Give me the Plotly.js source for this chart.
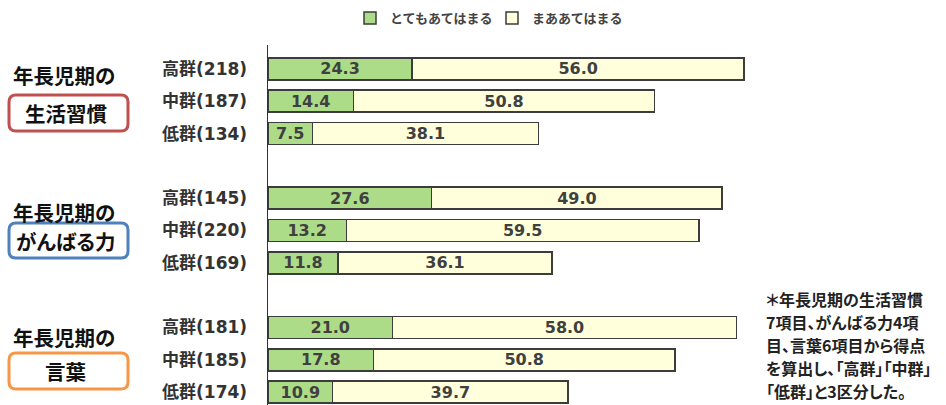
<!DOCTYPE html>
<html><head><meta charset="utf-8">
<script src="https://cdn.plot.ly/plotly-3.0.1.min.js"></script>
<style>html,body{margin:0;padding:0;background:#fff;}#chart{width:946px;height:405px;}
.annotation-text{font-feature-settings:"palt";}</style>
</head><body><div id="chart"></div>
<script>
// ---- data ----
const groupTitles = ["生活習慣", "がんばる力", "言葉"];
const groupPrefix = "年長児期の";
const rowLabels = [
  ["高群(218)", "中群(187)", "低群(134)"],
  ["高群(145)", "中群(220)", "低群(169)"],
  ["高群(181)", "中群(185)", "低群(174)"]
];
const veryTrue = [24.3, 14.4, 7.5, 27.6, 13.2, 11.8, 21.0, 17.8, 10.9];
const fairlyTrue = [56.0, 50.8, 38.1, 49.0, 59.5, 36.1, 58.0, 50.8, 39.7];
const seriesNames = ["とてもあてはまる", "まああてはまる"];
const noteLines = ["＊年長児期の生活習慣", "7項目、がんばる力4項", "目、言葉6項目から得点", "を算出し、「高群」「中群」", "「低群」と3区分した。"];

// ---- layout helpers ----
const W = 946, H = 405;
const M = {l: 268, r: 85, t: 45, b: 0};
const pw = W - M.l - M.r, ph = H - M.t - M.b;
const px2x = p => (p - M.l) / pw;
const py2y = p => (H - M.b - p) / ph;

const yPos = [], yText = [];
rowLabels.forEach((g, gi) => g.forEach((lab, i) => { yPos.push(gi * 4 + i); yText.push(lab); }));

const FONT = '"Noto Sans CJK JP", "Noto Sans", sans-serif';
const NUMFONT = '"DejaVu Sans", "Noto Sans CJK JP", sans-serif';

const common = {
  type: 'bar', orientation: 'h', y: yPos, width: 0.68,
  texttemplate: '%{x:.1f}', textposition: 'inside', insidetextanchor: 'middle',
  constraintext: 'none',
  textfont: {family: NUMFONT, size: 16, color: '#404040', weight: 'bold'},
  hoverinfo: 'skip'
};
const traces = [
  Object.assign({}, common, {x: veryTrue, name: seriesNames[0],
    marker: {color: '#acdc88', line: {color: '#3c3c3c', width: 1.5}}}),
  Object.assign({}, common, {x: fairlyTrue, name: seriesNames[1],
    marker: {color: '#ffffdc', line: {color: '#3c3c3c', width: 1.5}}})
];

const annotations = [], shapes = [];
const boxColors = ['#c0504d', '#4f81bd', '#f79646'];
const titleY = [75, 212, 337];
const boxTop = [95, 223, 353], boxBot = [131, 258, 389];
groupTitles.forEach((t, gi) => {
  annotations.push({xref: 'paper', yref: 'paper', x: px2x(64), y: py2y(titleY[gi]), text: groupPrefix,
    showarrow: false, xanchor: 'center', yanchor: 'middle',
    font: {family: FONT, size: 20.5, color: '#111', weight: 'bold'}});
  annotations.push({xref: 'paper', yref: 'paper', x: px2x(66), y: py2y((boxTop[gi] + boxBot[gi]) / 2), text: t,
    showarrow: false, xanchor: 'center', yanchor: 'middle',
    font: {family: FONT, size: 20.5, color: '#111', weight: 'bold'}});
  const x0 = px2x(9), x1 = px2x(128), y0 = py2y(boxBot[gi]), y1 = py2y(boxTop[gi]);
  const r = 7, rx = r / pw, ry = r / ph;
  const path = `M ${x0 + rx} ${y1} L ${x1 - rx} ${y1} Q ${x1} ${y1} ${x1} ${y1 - ry} L ${x1} ${y0 + ry} Q ${x1} ${y0} ${x1 - rx} ${y0} L ${x0 + rx} ${y0} Q ${x0} ${y0} ${x0} ${y0 + ry} L ${x0} ${y1 - ry} Q ${x0} ${y1} ${x0 + rx} ${y1} Z`;
  shapes.push({type: 'path', xref: 'paper', yref: 'paper', path: path, layer: 'below',
    line: {color: boxColors[gi], width: 3}, fillcolor: 'rgba(255,255,255,0)'});
});
const noteY = [299, 322, 345, 368, 391];
noteLines.forEach((ln, i) => {
  annotations.push({xref: 'paper', yref: 'paper', x: px2x(764), y: py2y(noteY[i]), text: ln,
    showarrow: false, xanchor: 'left', yanchor: 'middle',
    font: {family: FONT, size: 16, color: '#222', weight: 'bold'}});
});

const layout = {
  width: W, height: H, margin: M, barmode: 'stack', showlegend: true,
  paper_bgcolor: '#fff', plot_bgcolor: '#fff',
  font: {family: FONT, color: '#333'},
  xaxis: {range: [0, 100], showgrid: false, zeroline: false, showticklabels: false, showline: false, fixedrange: true},
  yaxis: {range: [10.4, -0.74], tickmode: 'array', tickvals: yPos, ticktext: yText,
    showgrid: false, zeroline: false, showline: true, linecolor: '#333', linewidth: 1.5,
    ticks: '', ticklabelstandoff: 16,
    tickfont: {family: NUMFONT, size: 17, color: '#333', weight: 'bold'}},
  legend: {orientation: 'h', x: px2x(350), xanchor: 'left', y: py2y(18), yanchor: 'middle',
    font: {family: FONT, size: 13, color: '#444', weight: 'bold'}, itemwidth: 30, entrywidth: 97, traceorder: 'normal'},
  annotations: annotations, shapes: shapes
};
Plotly.newPlot('chart', traces, layout, {staticPlot: true, displayModeBar: false});
</script></body></html>
